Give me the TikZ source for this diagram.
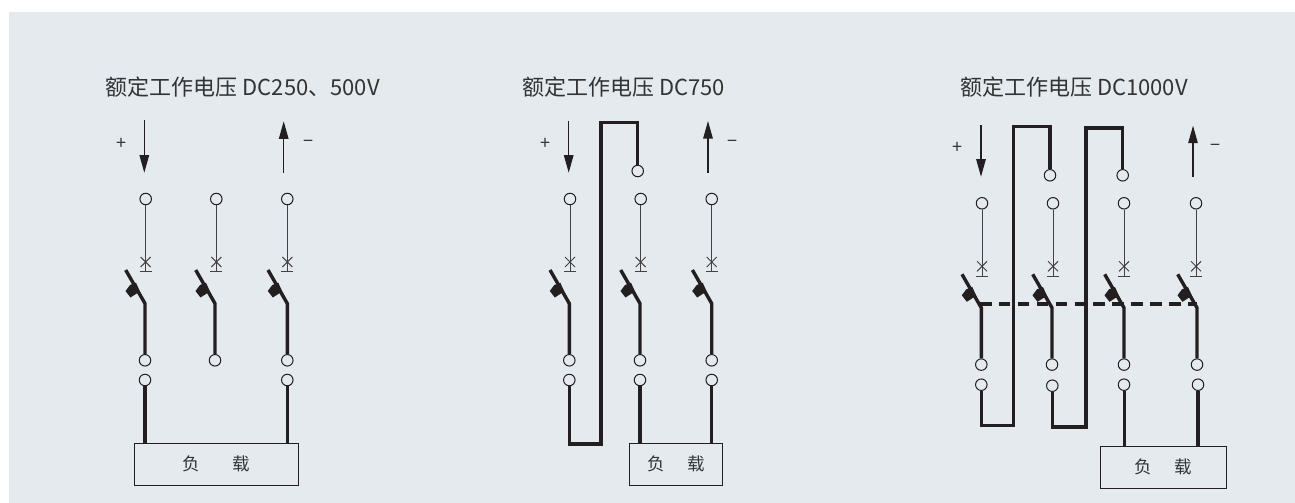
\documentclass[tikz,border=0pt]{standalone}
\usepackage{fontspec}
\setmainfont{Noto Sans CJK SC}
\usetikzlibrary{arrows.meta,calc}
\definecolor{bgc}{HTML}{E4EAEE}
\definecolor{ink}{HTML}{231F20}
\definecolor{txt}{HTML}{333333}
\tikzset{
  term/.style={circle,draw=ink,line width=1pt,minimum size=11.5pt,inner sep=0pt},
  wire/.style={draw=ink,line width=3.4pt,line join=miter},
  wirethin/.style={draw=ink,line width=3pt},
  hair/.style={draw=ink!85,line width=1pt},
  flow/.style={draw=ink,line width=1.1pt,-{Triangle[length=17.5pt,width=9.5pt]},shorten >=0pt},
  title/.style={anchor=west,inner sep=0pt,font=\fontsize{22}{26}\selectfont,text=txt},
  sign/.style={inner sep=0pt,font=\fontsize{18}{20}\selectfont,text=txt},
  loadbox/.style={draw=ink,line width=1pt,rectangle,inner sep=0pt,minimum height=42pt,
    font=\fontsize{17.5}{20}\selectfont,text=txt}
}
% name, x of top terminal, x of elbow and lower terminal, y of top terminal
\newcommand\mypole[4]{%
  \node[term] (#1t) at (#2,#4) {};
  \coordinate (#1b) at (#2,#4+72.7);
  \draw[hair] (#1t) -- (#1b);
  \draw[hair] (#2-6,#4+72.7) -- (#2+6,#4+72.7);
  \draw[hair] (#2-5,#4+58) -- (#2+5,#4+68);
  \draw[hair] (#2-5,#4+68) -- (#2+5,#4+58);
  \coordinate (#1e) at (#3,#4+104.5);
  \coordinate (#1u) at (#3-19.3,#4+71);
  \node[term] (#1l) at (#3,#4+161.3) {};
  \draw[wire] (#1u) -- (#1e) -- (#1l);
  \fill[ink] (#3-9,#4+83.7) -- (#3-15,#4+86) -- (#3-19.5,#4+92) -- (#3-14.5,#4+98.5)
     -- (#3-7.5,#4+94) -- (#3-3.5,#4+96) -- cycle;
}
\begin{document}
\begin{tikzpicture}[x=1pt,y=-1pt]
\useasboundingbox (0,0) rectangle (1295,503);
\fill[bgc] (9,12) rectangle (1295,503);

% ---------- Panel 1
\node[title] (t1) at (105.5,86.7) {额定工作电压 DC250、500V};
\coordinate (a1s) at (144.3,120); \coordinate (a1e) at (144.3,172.7);
\draw[flow] (a1s) -- (a1e);
\coordinate (b1s) at (283.7,173); \coordinate (b1e) at (283.7,121.3);
\draw[flow] (b1s) -- (b1e);
\node[sign] (p1) at (121,144) {+};
\node[sign] (m1) at (308,144) {−};
\mypole{pa}{145.7}{145}{199}
\mypole{pb}{216.3}{215}{199}
\mypole{pc}{287.3}{287.3}{199}
\node[term] (pac) at (145,380) {};
\node[term] (pcc) at (287.3,380) {};
\node[loadbox,minimum width=164pt] (load1) at (216.3,464.3) {负\hspace{33pt}载};
\draw[wire] (pac) -- (pac |- load1.north);
\draw[wire] (pcc) -- (pcc |- load1.north);

% ---------- Panel 2
\node[title] (t2) at (522,86.7) {额定工作电压 DC750};
\coordinate (a2s) at (568.7,120.7); \coordinate (a2e) at (568.7,172.7);
\draw[flow] (a2s) -- (a2e);
\coordinate (b2s) at (708,173); \coordinate (b2e) at (708,121);
\draw[flow] (b2s) -- (b2e);
\node[sign] (p2) at (545,144) {+};
\node[sign] (m2) at (732.7,144) {−};
\mypole{qa}{570}{569.3}{199}
\mypole{qb}{640.7}{640}{199}
\mypole{qc}{711.7}{711.7}{199}
\node[term] (qac) at (569.3,380) {};
\node[term] (qbc) at (640,380) {};
\node[term] (qcc) at (711.7,380) {};
\node[term] (qx) at (637.7,171) {};
\coordinate (q1) at (637.7,122.3);
\coordinate (q2) at (601,122.3);
\coordinate (q3) at (601,444);
\coordinate (q4) at (569.3,444);
\draw[wire] (qx) -- (q1) -- (q2) -- (q3) -- (q4) -- (qac);
\node[loadbox,minimum width=92.6pt] (load2) at (676,464.3) {负\hspace{22.5pt}载};
\draw[wire] (qbc) -- (qbc |- load2.north);
\draw[wire] (qcc) -- (qcc |- load2.north);

% ---------- Panel 3
\node[title] (t3) at (960,86.7) {额定工作电压 DC1000V};
\coordinate (a3s) at (981,125); \coordinate (a3e) at (981,176.7);
\draw[flow] (a3s) -- (a3e);
\coordinate (b3s) at (1193,177.3); \coordinate (b3e) at (1193,125.7);
\draw[flow] (b3s) -- (b3e);
\node[sign] (p3) at (957.3,148.3) {+};
\node[sign] (m3) at (1215.3,148.3) {−};
\mypole{ra}{982}{981.3}{203.3}
\mypole{rb}{1053}{1052}{203.3}
\mypole{rc}{1124}{1124}{203.3}
\mypole{rd}{1196}{1197}{203.3}
\node[term] (rac) at (981.3,384.7) {};
\node[term] (rbc) at (1052.3,385.7) {};
\node[term] (rcc) at (1124,384.7) {};
\node[term] (rdc) at (1198,384.7) {};
\node[term] (rx) at (1050,175.3) {};
\node[term] (ry) at (1122.7,175.3) {};
\coordinate (r1) at (1050,126.7);
\coordinate (r2) at (1013.3,126.7);
\coordinate (r3) at (1013.3,425.7);
\coordinate (r4) at (981.3,425.7);
\draw[wire] (rx) -- (r1) -- (r2) -- (r3) -- (r4) -- (rac);
\coordinate (s1) at (1122.7,128);
\coordinate (s2) at (1086,128);
\coordinate (s3) at (1086,427);
\coordinate (s4) at (1052.3,427);
\draw[wire] (ry) -- (s1) -- (s2) -- (s3) -- (s4) -- (rbc);
\coordinate (ds) at (980,304);
\coordinate (de) at (1197,304);
\draw[draw=ink,line width=3.5pt,dash pattern=on 11.5pt off 7.4pt] (ds) -- (de);
\node[loadbox,minimum width=126pt] (load3) at (1163,467) {负\hspace{22.5pt}载};
\draw[wirethin] (rcc) -- (rcc |- load3.north);
\draw[wire] (rdc) -- (rdc |- load3.north);
\end{tikzpicture}
\end{document}
